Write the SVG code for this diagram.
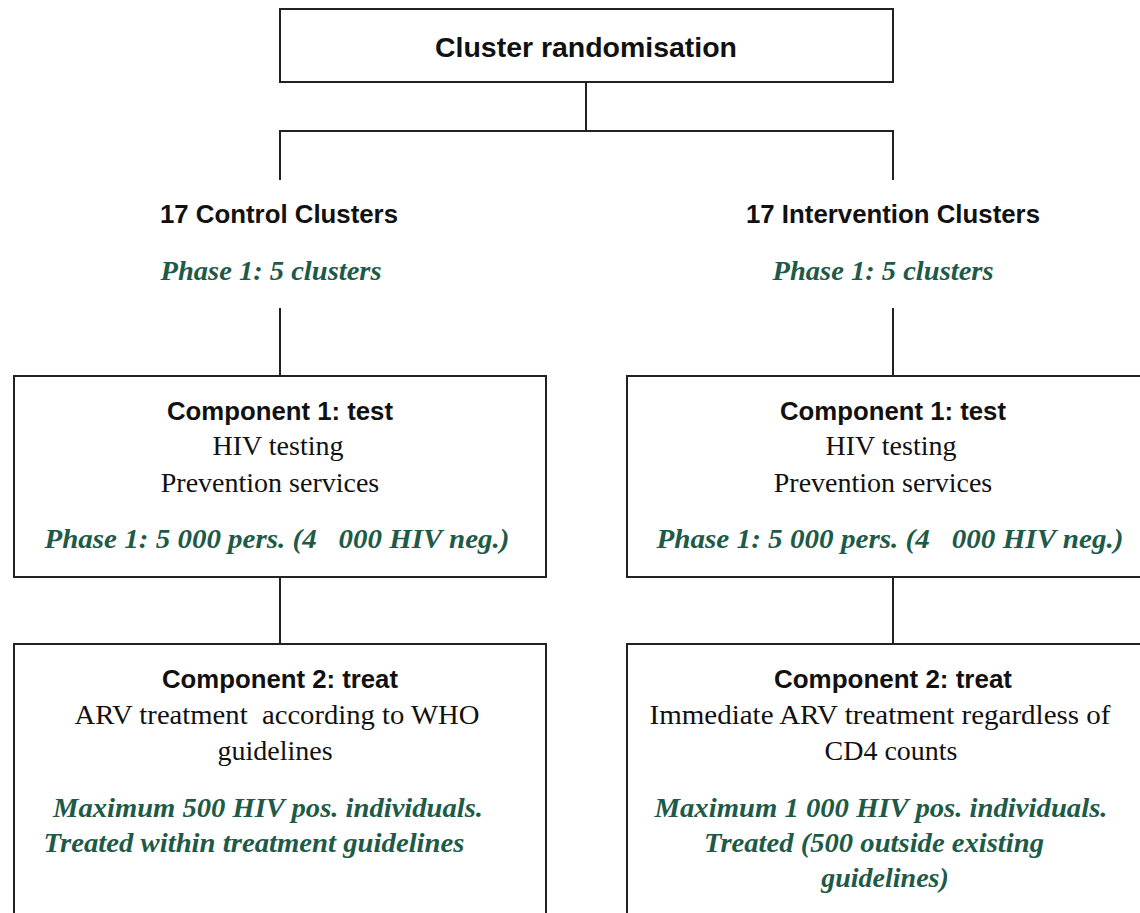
<svg xmlns="http://www.w3.org/2000/svg" width="1140" height="913" viewBox="0 0 1140 913">
<style>
.box{fill:#fff;stroke:#222;stroke-width:2}
.ln{fill:none;stroke:#222;stroke-width:2}
.h{font-family:"Liberation Sans",Arial,sans-serif;font-weight:bold;fill:#111;text-anchor:middle}
.t{font-family:"Liberation Serif","Times New Roman",serif;font-size:28px;fill:#111;text-anchor:middle}
.g{font-family:"Liberation Serif","Times New Roman",serif;font-size:28px;font-weight:bold;font-style:italic;fill:#1e5a48;text-anchor:middle;white-space:pre}
</style>
<rect width="1140" height="913" fill="#fff"/>
<g id="connectors">
<path class="ln" d="M586 82V131M280 131H893M280 130V180M893 130V180"/>
<path class="ln" d="M280 308V376M893 308V376"/>
<path class="ln" d="M280 577V644M893 577V644"/>
</g>
<g id="root">
<rect class="box" x="280" y="9" width="613" height="73"/>
<text class="h" x="586" y="57" font-size="28" textLength="302" lengthAdjust="spacingAndGlyphs">Cluster randomisation</text>
</g>
<g id="control">
<text class="h" x="279" y="223" font-size="26" textLength="238" lengthAdjust="spacingAndGlyphs">17 Control Clusters</text>
<text class="g" x="271" y="280" textLength="221" lengthAdjust="spacingAndGlyphs">Phase 1: 5 clusters</text>
</g>
<g id="intervention">
<text class="h" x="893" y="223" font-size="26" textLength="294" lengthAdjust="spacingAndGlyphs">17 Intervention Clusters</text>
<text class="g" x="883" y="280" textLength="221" lengthAdjust="spacingAndGlyphs">Phase 1: 5 clusters</text>
</g>
<g id="control-test">
<rect class="box" x="14" y="376" width="532" height="201"/>
<text class="h" x="280" y="420" font-size="26" textLength="226" lengthAdjust="spacingAndGlyphs">Component 1: test</text>
<text class="t" x="278" y="455">HIV testing</text>
<text class="t" x="270" y="492">Prevention services</text>
<text class="g" x="277" y="548" textLength="465" lengthAdjust="spacingAndGlyphs">Phase 1: 5 000 pers. (4   000 HIV neg.)</text>
</g>
<g id="intervention-test">
<rect class="box" x="627" y="376" width="520" height="201"/>
<text class="h" x="893" y="420" font-size="26" textLength="226" lengthAdjust="spacingAndGlyphs">Component 1: test</text>
<text class="t" x="891" y="455">HIV testing</text>
<text class="t" x="883" y="492">Prevention services</text>
<text class="g" x="890" y="548" textLength="467" lengthAdjust="spacingAndGlyphs">Phase 1: 5 000 pers. (4   000 HIV neg.)</text>
</g>
<g id="control-treat">
<rect class="box" x="14" y="644" width="532" height="280"/>
<text class="h" x="280" y="688" font-size="26" textLength="236" lengthAdjust="spacingAndGlyphs">Component 2: treat</text>
<text class="t" x="277" y="724" style="white-space:pre" textLength="405" lengthAdjust="spacingAndGlyphs">ARV treatment  according to WHO</text>
<text class="t" x="275" y="760">guidelines</text>
<text class="g" x="268" y="817" textLength="430" lengthAdjust="spacingAndGlyphs">Maximum 500 HIV pos. individuals.</text>
<text class="g" x="254" y="852" textLength="421" lengthAdjust="spacingAndGlyphs">Treated within treatment guidelines</text>
</g>
<g id="intervention-treat">
<rect class="box" x="627" y="644" width="520" height="280"/>
<text class="h" x="893" y="688" font-size="26" textLength="238" lengthAdjust="spacingAndGlyphs">Component 2: treat</text>
<text class="t" x="880" y="724" textLength="461" lengthAdjust="spacingAndGlyphs">Immediate ARV treatment regardless of</text>
<text class="t" x="891" y="760">CD4 counts</text>
<text class="g" x="881" y="817" textLength="453" lengthAdjust="spacingAndGlyphs">Maximum 1 000 HIV pos. individuals.</text>
<text class="g" x="874" y="852" textLength="340" lengthAdjust="spacingAndGlyphs">Treated (500 outside existing</text>
<text class="g" x="885" y="887">guidelines)</text>
</g>
</svg>
